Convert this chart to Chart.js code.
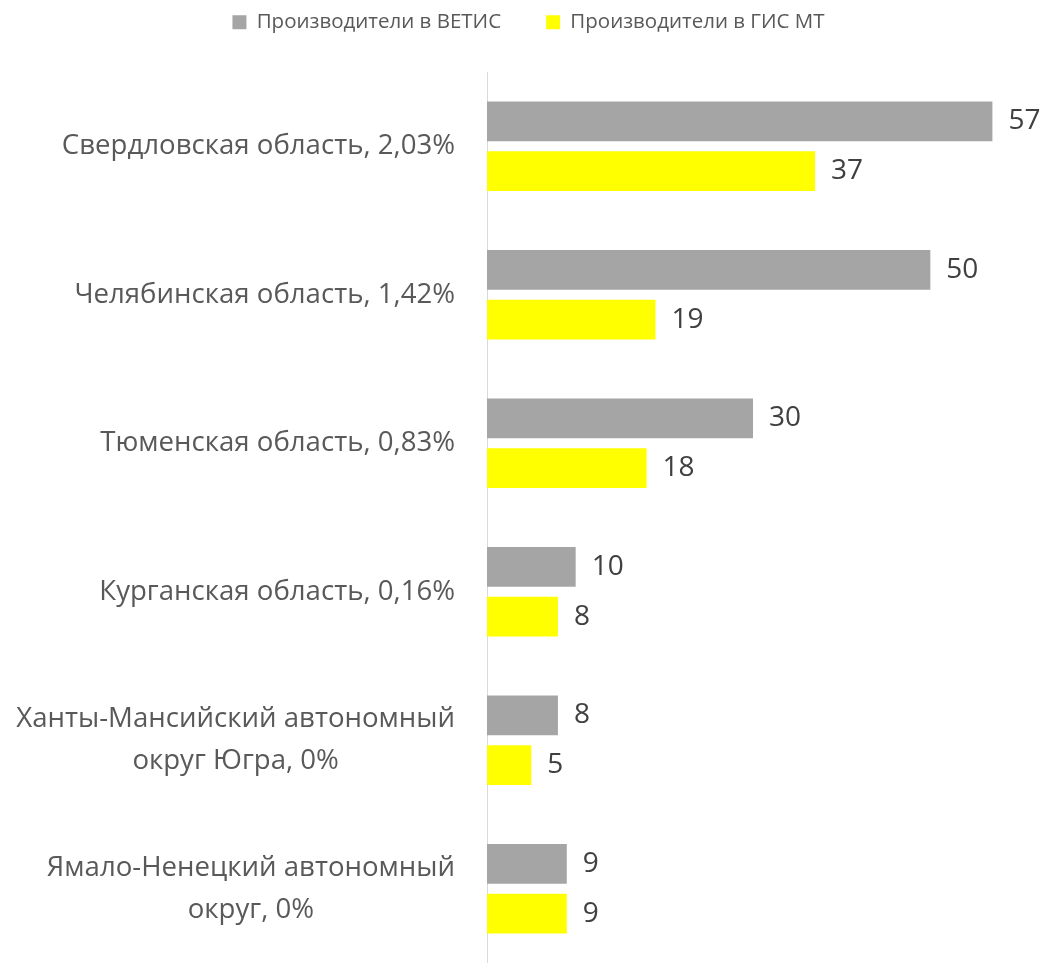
<!DOCTYPE html>
<html>
<head>
<meta charset="utf-8">
<script src="https://cdn.jsdelivr.net/npm/chart.js@4"></script>
<style>
  html, body { margin: 0; padding: 0; background: #fff; }
  #wrap { width: 1048px; height: 963px; }
</style>
</head>
<body>
<div id="wrap"><canvas id="myChart"></canvas></div>
<script>
// regions (each label may have several lines)
const regions = [
    ['Свердловская область, 2,03%'],
    ['Челябинская область, 1,42%'],
    ['Тюменская область, 0,83%'],
    ['Курганская область, 0,16%'],
    ['Ханты-Мансийский автономный', 'округ Югра, 0%'],
    ['Ямало-Ненецкий автономный', 'округ, 0%']
];
const vetis = [57, 50, 30, 10, 8, 9];   // Производители в ВЕТИС
const gisMt = [37, 19, 18, 8, 5, 9];    // Производители в ГИС МТ

const labelFont = '27.6px "Open Sans", sans-serif';

// draws the category names, lines centred within a right-aligned block
const regionLabels = {
    id: 'regionLabels',
    afterDraw(chart) {
        const ctx = chart.ctx;
        const yScale = chart.scales.y;
        const right = chart.chartArea.left - 32;
        const lineH = 42;
        ctx.save();
        ctx.font = labelFont;
        ctx.fillStyle = '#595959';
        ctx.textBaseline = 'middle';
        ctx.textAlign = 'center';
        regions.forEach((lines, i) => {
            const y = yScale.getPixelForTick(i);
            const widest = Math.max(...lines.map(l => ctx.measureText(l).width));
            const cx = right - widest / 2;
            const top = y - (lines.length - 1) * lineH / 2;
            lines.forEach((l, j) => ctx.fillText(l, cx, top + j * lineH));
        });
        ctx.restore();
    }
};

// value labels at the end of each bar
const valueLabels = {
    id: 'valueLabels',
    afterDatasetsDraw(chart) {
        const ctx = chart.ctx;
        ctx.save();
        ctx.font = '28px "Open Sans", sans-serif';
        ctx.fillStyle = '#404040';
        ctx.textBaseline = 'middle';
        ctx.textAlign = 'left';
        chart.data.datasets.forEach((ds, di) => {
            chart.getDatasetMeta(di).data.forEach((bar, i) => {
                ctx.fillText(ds.data[i], bar.x + 16, bar.y);
            });
        });
        ctx.restore();
    }
};

// taller legend box so the plot starts lower, then lift the legend itself
const legendSpace = {
    id: 'legendSpace',
    beforeInit(chart) {
        const fit = chart.legend.fit;
        chart.legend.fit = function () {
            fit.bind(chart.legend)();
            this.height = 72;
        };
    },
    afterUpdate(chart) {
        const lg = chart.legend;
        lg.top = -33;
        lg.bottom = 39;
        lg.left += 19;
        lg.right += 19;
        lg.adjustHitBoxes();
    }
};

const ctx = document.getElementById('myChart');
new Chart(ctx, {
    type: 'bar',
    data: {
        labels: regions,
        datasets: [
            {
                label: 'Производители в ВЕТИС',
                data: vetis,
                backgroundColor: '#A5A5A5',
                categoryPercentage: 0.669,
                barPercentage: 0.8
            },
            {
                label: 'Производители в ГИС МТ',
                data: gisMt,
                backgroundColor: '#FFFF00',
                categoryPercentage: 0.669,
                barPercentage: 0.8
            }
        ]
    },
    options: {
        indexAxis: 'y',
        responsive: true,
        maintainAspectRatio: false,
        animation: false,
        layout: {
            padding: { left: 0, right: 29, top: 0, bottom: -5 }
        },
        scales: {
            x: {
                display: false,
                min: 0,
                max: 60
            },
            y: {
                grid: { display: false },
                border: { color: '#D9D9D9', width: 1 },
                ticks: { display: false },
                afterFit(scale) { scale.width = 487; }
            }
        },
        plugins: {
            legend: {
                position: 'top',
                labels: {
                    boxWidth: 14,
                    boxHeight: 14,
                    padding: 45,
                    color: '#595959',
                    font: { size: 20.5, family: '"Open Sans", sans-serif' }
                }
            },
            tooltip: { enabled: false }
        }
    },
    plugins: [regionLabels, valueLabels, legendSpace]
});
</script>
</body>
</html>
